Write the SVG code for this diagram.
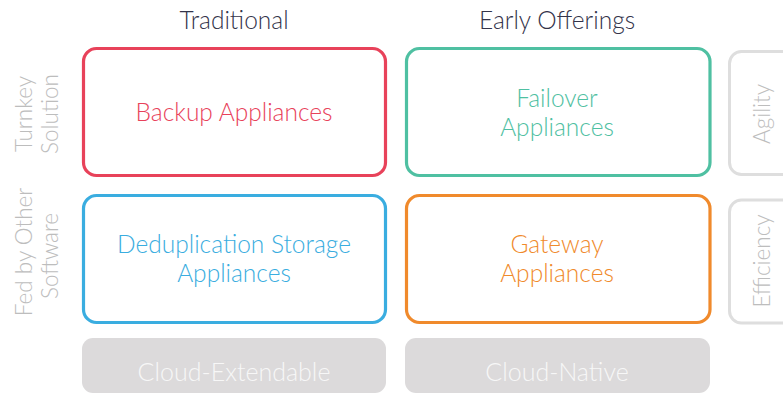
<svg xmlns="http://www.w3.org/2000/svg" width="783" height="394" viewBox="0 0 783 394">
<style>
text{font-family:Lato,"Open Sans","Liberation Sans",sans-serif;font-weight:300;font-size:24.5px;text-anchor:middle}
.hdr{fill:#33334a}
.box{fill:#fff;stroke-width:3.2}
.side{fill:#bdbdbd;font-size:22.5px}
.axis{fill:none;stroke:#dedede;stroke-width:3}
.base{fill:#dcdadb}
.basetxt{fill:#f7f7f7;font-size:25px}
</style>
<rect width="783" height="394" fill="#fff"/>
<g id="headers">
<text class="hdr" x="234" y="29">Traditional</text>
<text class="hdr" x="557" y="29">Early Offerings</text>
</g>
<g id="row-labels">
<text class="side" transform="translate(32,114) rotate(-90)">Turnkey</text>
<text class="side" transform="translate(58,114) rotate(-90)">Solution</text>
<text class="side" transform="translate(32,252) rotate(-90)">Fed by Other</text>
<text class="side" transform="translate(58,256) rotate(-90)">Software</text>
</g>
<g id="backup">
<rect class="box" x="83.5" y="48.5" width="302" height="127" rx="13" stroke="#e8425a"/>
<text x="234" y="121" fill="#e8425a">Backup Appliances</text>
</g>
<g id="failover">
<rect class="box" x="406.5" y="48.5" width="303.5" height="127" rx="13" stroke="#4fc0a2"/>
<text x="557" y="107" fill="#4fc0a2">Failover</text>
<text x="557" y="136" fill="#4fc0a2">Appliances</text>
</g>
<g id="dedup">
<rect class="box" x="83.5" y="195.5" width="302" height="127" rx="13" stroke="#3aade0"/>
<text x="234" y="253" fill="#3aade0">Deduplication Storage</text>
<text x="234" y="282" fill="#3aade0">Appliances</text>
</g>
<g id="gateway">
<rect class="box" x="406.5" y="195.5" width="303.5" height="127" rx="13" stroke="#f08a2c"/>
<text x="557" y="253" fill="#f08a2c">Gateway</text>
<text x="557" y="282" fill="#f08a2c">Appliances</text>
</g>
<g id="agility">
<rect class="axis" x="729.5" y="51.5" width="80" height="123" rx="12"/>
<text class="side" transform="translate(770,114) rotate(-90)">Agility</text>
</g>
<g id="efficiency">
<rect class="axis" x="729.5" y="200" width="80" height="123" rx="12"/>
<text class="side" transform="translate(770,261) rotate(-90)">Efficiency</text>
</g>
<g id="cloud-extendable">
<rect class="base" x="82" y="338" width="304" height="55" rx="11"/>
<text class="basetxt" x="234" y="381">Cloud-Extendable</text>
</g>
<g id="cloud-native">
<rect class="base" x="405" y="338" width="305" height="55" rx="11"/>
<text class="basetxt" x="557" y="381">Cloud-Native</text>
</g>
<g id="connectors"/>
</svg>
